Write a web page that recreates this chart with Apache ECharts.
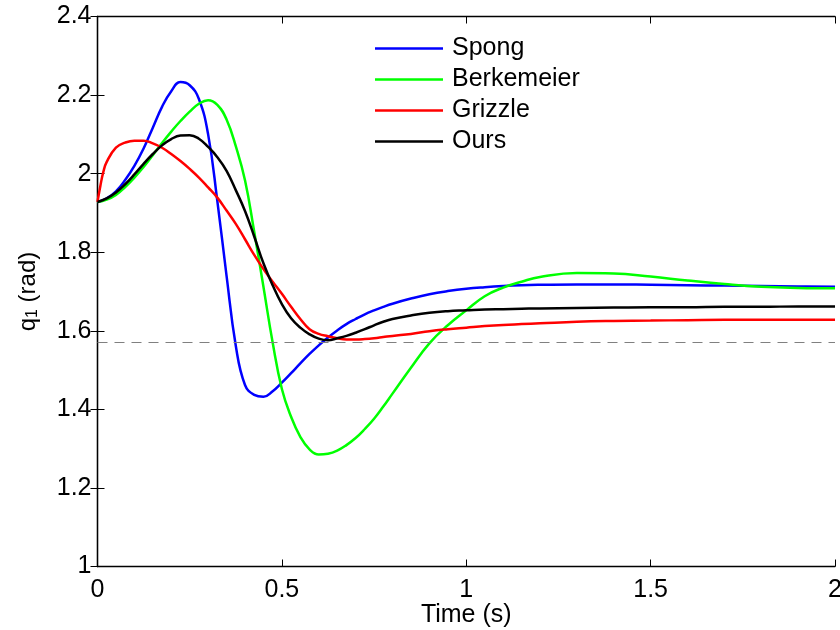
<!DOCTYPE html>
<html>
<head>
<meta charset="utf-8">
<script src="https://cdn.jsdelivr.net/npm/echarts@6/dist/echarts.min.js"></script>
<style>
  html, body { margin: 0; padding: 0; background: #ffffff; }
  #chart { width: 840px; height: 630px; }
</style>
</head>
<body>
<div id="chart"></div>
<script>
// Joint angle q1 responses of four controllers (time in s, angle in rad)
const spongT = [0, 0.025, 0.05, 0.075, 0.1, 0.125, 0.15, 0.175, 0.2, 0.225, 0.25, 0.275, 0.3, 0.325, 0.35, 0.375, 0.4, 0.425, 0.45, 0.475, 0.5, 0.525, 0.55, 0.575, 0.6, 0.625, 0.65, 0.675, 0.7, 0.725, 0.75, 0.775, 0.8, 0.85, 0.9, 0.95, 1.0, 1.05, 1.1, 1.15, 1.2, 1.3, 1.4, 1.5, 1.6, 1.7, 1.8, 1.9, 2.0];
const spongQ = [1.928, 1.937, 1.955, 1.984, 2.020, 2.064, 2.117, 2.170, 2.210, 2.233, 2.225, 2.190, 2.100, 1.930, 1.740, 1.562, 1.462, 1.437, 1.432, 1.446, 1.468, 1.492, 1.517, 1.541, 1.563, 1.583, 1.601, 1.617, 1.630, 1.642, 1.652, 1.661, 1.669, 1.682, 1.693, 1.701, 1.707, 1.711, 1.714, 1.716, 1.717, 1.718, 1.718, 1.717, 1.716, 1.715, 1.714, 1.713, 1.712];

const berkT = [0, 0.025, 0.05, 0.075, 0.1, 0.125, 0.15, 0.175, 0.2, 0.225, 0.25, 0.275, 0.3, 0.325, 0.35, 0.375, 0.4, 0.425, 0.45, 0.475, 0.5, 0.525, 0.55, 0.575, 0.6, 0.625, 0.65, 0.675, 0.7, 0.725, 0.75, 0.775, 0.8, 0.85, 0.9, 0.95, 1.0, 1.05, 1.1, 1.15, 1.2, 1.3, 1.4, 1.5, 1.6, 1.7, 1.8, 1.9, 2.0];
const berkQ = [1.928, 1.934, 1.946, 1.966, 1.990, 2.017, 2.047, 2.078, 2.107, 2.134, 2.158, 2.178, 2.187, 2.175, 2.138, 2.070, 1.983, 1.852, 1.712, 1.570, 1.452, 1.381, 1.330, 1.298, 1.285, 1.287, 1.295, 1.309, 1.327, 1.350, 1.376, 1.407, 1.440, 1.506, 1.568, 1.614, 1.652, 1.688, 1.710, 1.725, 1.737, 1.747, 1.746, 1.738, 1.728, 1.719, 1.712, 1.709, 1.708];

const grizT = [0, 0.008, 0.016, 0.025, 0.05, 0.075, 0.1, 0.125, 0.15, 0.175, 0.2, 0.225, 0.25, 0.275, 0.3, 0.325, 0.35, 0.375, 0.4, 0.425, 0.45, 0.475, 0.5, 0.525, 0.55, 0.575, 0.6, 0.625, 0.65, 0.675, 0.7, 0.725, 0.75, 0.775, 0.8, 0.85, 0.9, 0.95, 1.0, 1.05, 1.1, 1.15, 1.2, 1.3, 1.4, 1.5, 1.6, 1.7, 1.8, 1.9, 2.0];
const grizQ = [1.928, 1.970, 2.005, 2.030, 2.066, 2.079, 2.084, 2.084, 2.077, 2.066, 2.050, 2.032, 2.012, 1.990, 1.965, 1.939, 1.906, 1.872, 1.833, 1.793, 1.757, 1.725, 1.694, 1.661, 1.630, 1.604, 1.592, 1.586, 1.581, 1.578, 1.578, 1.579, 1.581, 1.584, 1.587, 1.592, 1.599, 1.604, 1.608, 1.612, 1.615, 1.617, 1.619, 1.623, 1.625, 1.626, 1.627, 1.628, 1.628, 1.628, 1.628];

const oursT = [0, 0.025, 0.05, 0.075, 0.1, 0.125, 0.15, 0.175, 0.2, 0.225, 0.25, 0.275, 0.3, 0.325, 0.35, 0.375, 0.4, 0.425, 0.45, 0.475, 0.5, 0.525, 0.55, 0.575, 0.6, 0.625, 0.65, 0.675, 0.7, 0.725, 0.75, 0.775, 0.8, 0.85, 0.9, 0.95, 1.0, 1.05, 1.1, 1.15, 1.2, 1.3, 1.4, 1.5, 1.6, 1.7, 1.8, 1.9, 2.0];
const oursQ = [1.928, 1.937, 1.952, 1.973, 1.998, 2.025, 2.050, 2.072, 2.088, 2.097, 2.098, 2.089, 2.068, 2.042, 2.007, 1.958, 1.905, 1.840, 1.772, 1.716, 1.668, 1.632, 1.608, 1.591, 1.580, 1.576, 1.581, 1.587, 1.595, 1.604, 1.614, 1.623, 1.630, 1.639, 1.646, 1.650, 1.652, 1.654, 1.655, 1.656, 1.657, 1.658, 1.659, 1.660, 1.660, 1.661, 1.661, 1.662, 1.662];

const seriesNames = ['Spong', 'Berkemeier', 'Grizzle', 'Ours'];
const seriesColors = ['#0000ff', '#00ff00', '#ff0000', '#000000'];
const refAngle = 1.5708; // pi/2

const xTicks = { min: 0, max: 2, interval: 0.5 };
const yTicks = { min: 1, max: 2.4, interval: 0.2 };

const FONT = '"Liberation Sans", Arial, Helvetica, sans-serif';

function pairs(ts, qs) {
  return ts.map((t, i) => [t, qs[i]]);
}

const curves = [
  pairs(spongT, spongQ),
  pairs(berkT, berkQ),
  pairs(grizT, grizQ),
  pairs(oursT, oursQ)
];

const series = curves.map((d, i) => ({
  name: seriesNames[i],
  type: 'line',
  data: d,
  smooth: 0.45,
  showSymbol: false,
  symbol: 'none',
  lineStyle: { color: seriesColors[i], width: 2.5 },
  itemStyle: { color: seriesColors[i] },
  emphasis: { disabled: true },
  z: 3 + i
}));

// dashed reference at pi/2
series[0].markLine = {
  silent: true,
  symbol: 'none',
  label: { show: false },
  lineStyle: { color: '#808080', type: [10, 7], width: 1.2 },
  data: [{ yAxis: refAngle }]
};

const axisCommon = {
  type: 'value',
  axisLine: { show: true, lineStyle: { color: '#000', width: 1.3 } },
  axisTick: { show: true, inside: true, length: 7, lineStyle: { color: '#000', width: 1 } },
  splitLine: { show: false }
};

const chart = echarts.init(document.getElementById('chart'), null, { renderer: 'canvas' });
chart.setOption({
  animation: false,
  backgroundColor: '#ffffff',
  textStyle: { fontFamily: FONT },
  grid: { left: 97.5, right: 5, top: 16.5, bottom: 63.5, containLabel: false, outerBoundsMode: 'none' },
  legend: {
    data: seriesNames,
    orient: 'vertical',
    left: 375,
    top: 36,
    padding: 0,
    icon: 'rect',
    itemWidth: 68,
    itemHeight: 2.5,
    itemGap: 6,
    textStyle: { fontFamily: FONT, fontSize: 25, color: '#000', lineHeight: 25, padding: [0, 0, 0, 4] },
    selectedMode: false
  },
  xAxis: [
    Object.assign({}, axisCommon, {
      position: 'bottom',
      min: xTicks.min, max: xTicks.max, interval: xTicks.interval,
      name: 'Time (s)',
      nameLocation: 'middle',
      nameGap: 36,
      nameMoveOverlap: false,
      nameTextStyle: { fontFamily: FONT, fontSize: 25, color: '#000' },
      axisLabel: { show: true, fontFamily: FONT, fontSize: 25, color: '#000', margin: 11, showMaxLabel: true, showMinLabel: true }
    }),
    Object.assign({}, axisCommon, {
      position: 'top',
      min: xTicks.min, max: xTicks.max, interval: xTicks.interval,
      axisLabel: { show: false }
    })
  ],
  yAxis: [
    Object.assign({}, axisCommon, {
      position: 'left',
      min: yTicks.min, max: yTicks.max, interval: yTicks.interval,
      name: '{q|q}{sub|1}{q| (rad)}',
      nameLocation: 'middle',
      nameRotate: 90,
      nameGap: 57,
      nameMoveOverlap: false,
      nameTextStyle: {
        fontFamily: FONT, color: '#000',
        rich: {
          q: { fontFamily: FONT, fontSize: 24, color: '#000' },
          sub: { fontFamily: FONT, fontSize: 16, color: '#000', verticalAlign: 'bottom', padding: [8, 0, 0, 0] }
        }
      },
      axisLabel: { show: true, fontFamily: FONT, fontSize: 25, color: '#000', margin: 6 }
    }),
    Object.assign({}, axisCommon, {
      position: 'right',
      min: yTicks.min, max: yTicks.max, interval: yTicks.interval,
      axisLabel: { show: false }
    })
  ],
  series: series
});
</script>
</body>
</html>
